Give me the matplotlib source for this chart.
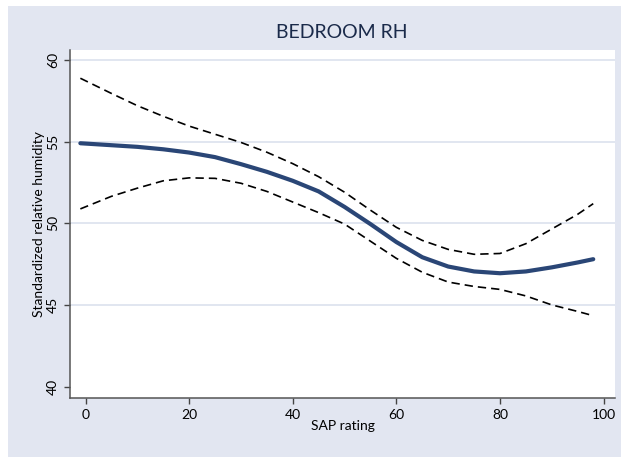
import matplotlib
matplotlib.use("Agg")
import matplotlib.pyplot as plt
from matplotlib.patches import Rectangle

# SAP rating values where the fitted curve was read
sap = [-1, 5, 10, 15, 20, 25, 30, 35, 40, 45, 50, 55, 60, 65, 70, 75, 80, 85, 90, 95, 98]
fit = [54.9, 54.78, 54.68, 54.53, 54.33, 54.05, 53.62, 53.15, 52.6, 51.95, 51.0,
       49.95, 48.85, 47.92, 47.35, 47.05, 46.94, 47.05, 47.3, 47.6, 47.8]
upper = [58.88, 57.95, 57.2, 56.55, 55.95, 55.45, 54.95, 54.35, 53.65, 52.85, 51.9,
         50.8, 49.75, 48.95, 48.4, 48.1, 48.15, 48.75, 49.65, 50.55, 51.2]
lower = [50.88, 51.65, 52.15, 52.6, 52.78, 52.75, 52.45, 51.95, 51.3, 50.65, 49.95,
         48.9, 47.85, 47.0, 46.4, 46.13, 45.95, 45.55, 45.0, 44.6, 44.34]

x_ticks = [0, 20, 40, 60, 80, 100]
y_ticks = [40, 45, 50, 55, 60]
grid_vals = [45, 50, 55, 60]

bg = "#E2E6F1"
plt.rcParams['font.family'] = ['Lato', 'DejaVu Sans']

fig = plt.figure(figsize=(6.21, 4.57), dpi=100)
fig.patch.set_facecolor("white")
# bluish outer panel (small white margin at top and left)
fig.add_artist(Rectangle((8 / 621, 0), 1, 1 - 6 / 457, transform=fig.transFigure,
                         facecolor=bg, edgecolor="none", zorder=-10))

ax = fig.add_axes([70 / 621, 59 / 457, 545 / 621, 348 / 457])
ax.set_facecolor("white")

for g in grid_vals:
    ax.axhline(g, color="#E1E6F0", lw=1.4, zorder=1)

ax.plot(sap, upper, color="black", lw=1.2, dashes=(5, 3), zorder=2)
ax.plot(sap, lower, color="black", lw=1.2, dashes=(5, 3), zorder=2)
ax.plot(sap, fit, color="#2A4676", lw=3.0, solid_capstyle="round",
        solid_joinstyle="round", zorder=3)

ax.set_xlim(-3.0, 102.2)
ax.set_ylim(39.3, 60.61)
ax.set_xticks(x_ticks)
ax.set_yticks(y_ticks)
ax.tick_params(axis="both", direction="out", length=4, width=1, color="#444444",
               labelsize=10, pad=4)
ax.tick_params(axis="y", labelrotation=90)
for lab in ax.get_yticklabels():
    lab.set_va("center")

for s in ["top", "right"]:
    ax.spines[s].set_visible(False)
for s in ["left", "bottom"]:
    ax.spines[s].set_color("#555555")
    ax.spines[s].set_linewidth(1.1)

ax.set_xlabel("SAP rating", fontsize=10, labelpad=-1)
ax.set_ylabel("Standardized relative humidity", fontsize=10, labelpad=1)

fig.text(342 / 621, 1 - 33 / 457, "BEDROOM RH", ha="center", va="center",
         fontsize=14, color="#1A2A4A")

fig.savefig("out.png", dpi=100)
